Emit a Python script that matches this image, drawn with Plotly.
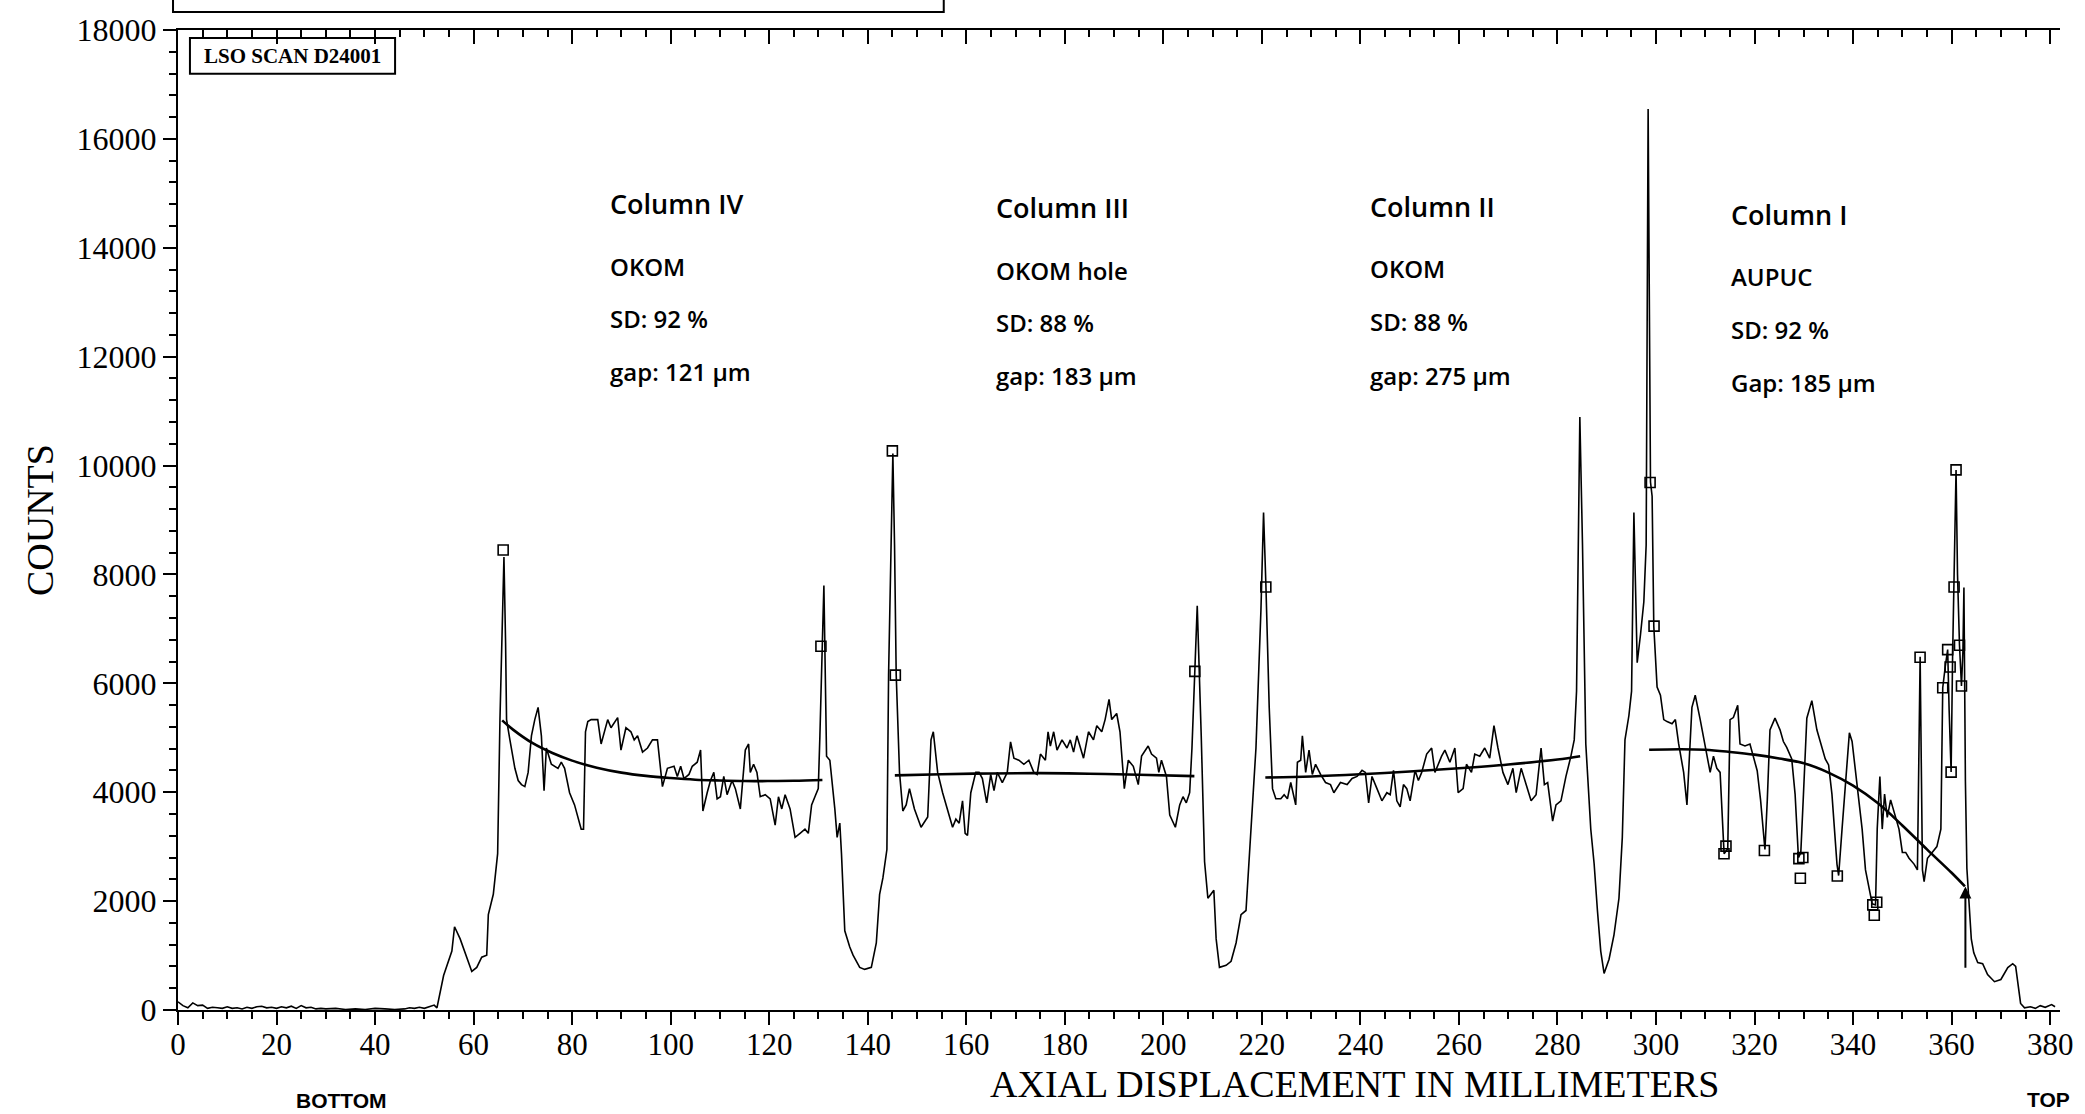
import plotly.graph_objects as go

# ---------------- data ----------------
scan_mm = [
    0, 1, 2, 3, 4, 5, 6, 7, 8, 9, 10, 11, 12, 13, 14, 15, 16, 17, 18, 19, 20, 21, 22, 23, 24, 25, 26, 27, 28, 29,
    30, 32, 34, 36, 38, 40, 42, 44, 46, 47, 48, 49, 50, 51, 52, 52.56,
    53.91, 55.59, 56.13, 57.27, 59.63, 60.64, 61.65, 62.66, 62.99, 64.00, 64.88, 65.35, 65.69, 66.16, 66.49, 66.69,
    67.37, 68.38, 69.05, 69.72, 70.40, 71.07, 71.74, 72.42, 73.09, 73.76, 74.30, 74.77, 75.78, 77.13, 77.80, 78.47,
    79.48, 80.49, 81.84, 82.31, 82.71, 83.18, 83.86, 85.20, 85.88, 87.22, 87.89, 89.24, 89.91, 90.92, 91.93, 92.60,
    93.28, 94.29, 95.30, 96.31, 97.32, 98.33, 99.34, 100.68, 101.35, 102.03, 102.70, 103.71, 104.38, 105.39, 106.07,
    106.54, 107.41, 108.08, 108.76, 109.43, 110.10, 110.78, 111.45, 112.46, 113.13, 114.14, 115.15, 115.82, 116.16,
    116.83, 117.51, 118.18, 119.19, 120.20, 121.21, 121.88, 122.55, 123.23, 124.24, 125.25, 126.26, 127.26, 127.94,
    128.61, 129.28, 129.96, 130.29, 130.70, 131.10, 131.64, 132.31, 133.32, 133.79, 134.33, 134.67, 135.34, 136.35,
    137.02, 138.37, 139.38, 140.39, 140.73, 141.74, 142.41, 143.08, 143.89, 144.23, 144.77, 145.10, 145.44, 145.78,
    146.45, 147.12, 147.80, 148.47, 149.48, 150.82, 152.17, 152.84, 153.31, 154.19, 155.20, 156.21, 157.22, 157.89,
    158.56, 159.24, 159.77, 160.25, 160.92, 161.93, 162.60, 163.27, 164.15, 164.96, 165.63, 166.30, 167.31, 168.32,
    168.99, 169.67, 170.68, 171.69, 172.70, 173.71, 174.38, 175.05, 176.06, 176.60, 177.07, 177.74, 178.42, 179.43,
    180.44, 181.11, 181.78, 182.45, 183.80, 184.81, 185.82, 186.49, 187.50, 188.18, 188.98, 189.52, 190.53, 191.20,
    192.08, 192.89, 193.90, 194.91, 195.58, 196.92, 197.60, 198.61, 199.08, 199.62, 200.63, 201.30, 202.44, 203.32,
    203.99, 204.66, 205.34, 205.81, 206.35, 206.88, 207.69, 208.37, 209.04, 209.71, 210.25, 210.72, 211.39, 212.74,
    213.75, 214.76, 215.77, 216.78, 217.79, 218.80, 219.81, 220.34, 220.82, 221.49, 222.16, 222.83, 223.84, 224.52,
    225.19, 225.86, 226.87, 227.21, 227.88, 228.22, 228.89, 229.57, 230.24, 230.90, 231.91, 232.92, 233.93, 234.61,
    235.95, 237.30, 238.31, 239.32, 240.33, 241.00, 241.67, 242.35, 243.36, 244.36, 245.37, 246.05, 246.72, 247.39,
    248.07, 248.74, 249.41, 250.09, 251.10, 251.77, 252.44, 253.45, 254.46, 255.13, 255.81, 256.48, 257.15, 258.16,
    259.17, 259.84, 260.85, 261.53, 262.54, 263.21, 264.22, 265.23, 266.24, 267.11, 267.92, 268.93, 269.94, 270.95,
    271.62, 272.63, 273.64, 274.65, 275.66, 276.67, 277.34, 278.01, 279.02, 279.70, 280.71, 281.72, 282.73, 283.40,
    283.87, 284.27, 284.54, 285.08, 285.75, 286.76, 287.44, 288.11, 288.78, 289.46, 290.47, 291.47, 292.48, 293.16,
    293.70, 294.50, 295.04, 295.51, 296.18, 296.86, 297.53, 298.00, 298.40, 298.88, 299.21, 299.55, 300.22, 300.90,
    301.57, 302.24, 303.25, 303.93, 304.60, 305.61, 306.28, 307.29, 307.96, 308.97, 309.98, 310.99, 311.66, 312.34,
    313.01, 313.82, 314.56, 315.03, 315.70, 316.58, 317.05, 318.06, 319.07, 320.54, 321.22, 321.77, 322.11, 322.59,
    323.13, 324.15, 325.17, 325.85, 326.53, 327.55, 328.23, 328.91, 329.39, 329.93, 330.61, 331.63, 332.65, 333.33,
    334.35, 335.03, 335.71, 336.73, 337.07, 337.76, 338.44, 339.25, 339.80, 340.48, 341.16, 341.84, 342.52, 343.20,
    343.88, 344.56, 344.90, 345.44, 345.92, 346.39, 346.94, 347.62, 348.30, 349.32, 350.00, 350.68, 351.36, 352.38,
    353.06, 353.61, 354.08, 354.42, 355.10, 356.12, 357.01, 357.82, 358.20, 358.70, 359.20, 359.50, 359.90, 360.20,
    360.50, 360.90, 361.20, 361.60, 362.00, 362.30, 362.50, 362.80, 363.10, 363.50, 364.00, 364.50, 365.30, 366.30,
    367.30, 368.70, 370.00, 371.40, 372.40, 373.00, 373.60, 374.00, 374.80, 376.0, 377.0, 378.0, 379.0, 380.3, 381.0,
]
scan_counts = [
    150, 80, 40, 130, 80, 90, 30, 50, 40, 30, 60, 30, 40, 20, 50, 30, 60, 70, 40, 50, 30, 60, 40, 70, 30, 80, 40, 50, 20, 30,
    20, 30, 10, 20, 10, 30, 20, 10, 20, 40, 30, 50, 30, 60, 90, 40,
    634, 1082, 1529, 1306, 709, 783, 970, 1007, 1753, 2126, 2872, 5334, 6751, 8318, 6751, 5334,
    4961, 4439, 4215, 4140, 4103, 4364, 5036, 5334, 5558, 5036, 4028, 4812, 4513, 4439, 4551, 4439,
    3991, 3767, 3320, 3320, 5110, 5297, 5334, 5334, 4886, 5334, 5185, 5371, 4774, 5185, 5110, 4961,
    5036, 4737, 4812, 4961, 4961, 4103, 4439, 4476, 4290, 4476, 4252, 4327, 4476, 4551, 4774,
    3655, 3991, 4215, 4364, 3879, 3917, 4290, 3954, 4215, 4066, 3693, 4774, 4886, 4364,
    4513, 4364, 3917, 3954, 3879, 3394, 3917, 3693, 3954, 3693, 3171, 3245, 3320, 3245,
    3767, 3917, 4066, 5036, 6677, 7796, 4663, 4588, 3693, 3171, 3432, 2872, 1455, 1156,
    1007, 783, 746, 783, 783, 1231, 2126, 2425, 2947, 6155, 8542, 10220, 8542, 6155,
    4364, 3655, 3767, 4066, 3693, 3357, 3544, 4961, 5110, 4364, 3991, 3693, 3357, 3506,
    3432, 3842, 3245, 3208, 3991, 4364, 4364, 4252, 3805, 4327, 4028, 4364, 4178, 4364,
    4924, 4625, 4588, 4513, 4588, 4364, 4327, 4700, 4588, 5110, 4849, 5110, 4774, 4961,
    4812, 4961, 4737, 5036, 4625, 5110, 4961, 5222, 5110, 5334, 5707, 5334, 5446, 5110,
    4066, 4588, 4476, 4140, 4663, 4849, 4700, 4625, 4364, 4588, 4290, 3581, 3357, 3767,
    3917, 3805, 3991, 4812, 6229, 7423, 5036, 2723, 2052, 2126, 2201, 1306, 783, 821,
    895, 1231, 1753, 1828, 3320, 4812, 7348, 9139, 7796, 5558, 4066, 3879, 3879, 3954,
    3879, 4178, 3767, 4551, 4588, 5036, 4364, 4774, 4327, 4513, 4327, 4178, 4140, 3991,
    4178, 4140, 4252, 4290, 4401, 4364, 3805, 4290, 4066, 3842, 3991, 3954, 4401, 3842,
    3730, 4140, 4066, 3842, 4401, 4215, 4364, 4700, 4812, 4364, 4513, 4663, 4774, 4551,
    4812, 3991, 4066, 4513, 4364, 4700, 4663, 4812, 4625, 5222, 4812, 4364, 4140, 4439,
    3991, 4439, 4140, 3842, 3954, 4812, 4140, 4178, 3469, 3767, 3842, 4290, 4663, 4961,
    5856, 8915, 10892, 8542, 4886, 3320, 2686, 1828, 1082, 671, 933, 1380, 2052, 3171,
    4961, 5409, 5856, 9139, 6378, 6901, 7498, 8542, 16550, 9698, 9437, 7050, 5931, 5782,
    5334, 5297, 5259, 5334, 4886, 4364, 3767, 5558, 5782, 5334, 4812, 4364, 4663, 4439,
    4364, 2870, 2960, 5334, 5371, 5595, 4886, 4849, 4886, 4395, 3859, 3216, 2948, 3859,
    5146, 5360, 5146, 4931, 4824, 4610, 3966, 2800, 2894, 3966, 5360, 5682, 5146, 4931,
    4610, 4502, 3966, 2680, 2470, 3323, 4181, 5092, 4931, 4395, 3752, 3323, 2573, 2251,
    1950, 1930, 3323, 4288, 3323, 3966, 3538, 3859, 3645, 3323, 2894, 2894, 2787, 2680,
    2573, 6486, 2573, 2358, 2787, 2894, 3002, 3323, 5920, 6300, 6620, 5500, 4370, 6500,
    7770, 9920, 8000, 6700, 5950, 6600, 7760, 4200, 2600, 2000, 1300, 1050, 870, 850,
    650, 520, 560, 780, 850, 800, 400, 120, 40, 60, 30, 80, 50, 100, 60,
]

# marked points (open squares)
mark_mm = [66.0, 130.5, 145.0, 145.6, 206.4, 220.8, 298.8, 299.6, 313.8, 314.2, 322.0, 329.0, 329.3, 329.8,
           336.8, 344.0, 344.3, 344.8, 353.6, 358.2, 359.2, 359.7, 359.9, 360.5, 360.9, 361.6, 362.0]
mark_counts = [8450, 6680, 10270, 6150, 6220, 7770, 9690, 7050, 2870, 3010, 2930, 2780, 2420, 2800,
               2460, 1930, 1740, 1980, 6480, 5920, 6620, 6300, 4370, 7770, 9920, 6700, 5950]

# fitted curves per column
fit4_mm = [65.8, 68, 72, 76, 80, 85, 90, 95, 100, 105, 110, 115, 120, 125, 130.8]
fit4_counts = [5320, 5150, 4900, 4720, 4580, 4450, 4360, 4300, 4260, 4230, 4215, 4205, 4205, 4210, 4225]
fit3_mm = [145.5, 155, 165, 175, 185, 195, 206.3]
fit3_counts = [4310, 4330, 4345, 4350, 4340, 4320, 4295]
fit2_mm = [220.7, 230, 240, 250, 260, 270, 280, 284.6]
fit2_counts = [4270, 4290, 4330, 4380, 4440, 4510, 4600, 4660]
fit1_mm = [298.6, 305, 310, 315, 320, 325, 330, 335, 340, 345, 350, 355, 360, 362.7]
fit1_counts = [4780, 4790, 4780, 4740, 4690, 4620, 4530, 4360, 4120, 3800, 3390, 2950, 2520, 2270]

# arrow marking the end of column I
arrow_mm = 362.8
arrow_counts = [750, 2270]

# column labels
col_x = [87.2, 165.6, 241.6, 314.9]
col_title = ["Column IV", "Column III", "Column II", "Column I"]
col_fuel = ["OKOM", "OKOM hole", "OKOM", "AUPUC"]
col_sd = ["SD: 92 %", "SD: 88 %", "SD: 88 %", "SD: 92 %"]
col_gap = ["gap: 121 µm", "gap: 183 µm", "gap: 275 µm", "Gap: 185 µm"]
title_y = [14805, 14732, 14756, 14610]
fuel_y = [13664, 13591, 13615, 13470]
sd_y = [12693, 12620, 12645, 12500]
gap_y = [11722, 11650, 11650, 11528]

# ---------------- figure ----------------
W, H = 2085, 1114
ML, MR, MT, MB = 178, 17, 25, 104
PW, PH = W - ML - MR, H - MT - MB


def px_x(p):
    return (p - ML) / PW


def px_y(p):
    return (H - MB - p) / PH


fig = go.Figure()

fig.add_trace(go.Scatter(x=scan_mm, y=scan_counts, mode="lines",
                         line=dict(color="black", width=1.6), hoverinfo="skip", showlegend=False))
for fx, fy in [(fit4_mm, fit4_counts), (fit3_mm, fit3_counts), (fit2_mm, fit2_counts), (fit1_mm, fit1_counts)]:
    fig.add_trace(go.Scatter(x=fx, y=fy, mode="lines", line=dict(color="black", width=2.6, shape="spline"),
                             hoverinfo="skip", showlegend=False))
fig.add_trace(go.Scatter(x=mark_mm, y=mark_counts, mode="markers",
                         marker=dict(symbol="square-open", size=10, color="black", line=dict(width=1.6)),
                         hoverinfo="skip", showlegend=False))
# invisible trace to activate top axis
fig.add_trace(go.Scatter(x=[0], y=[0], xaxis="x2", mode="markers", marker=dict(opacity=0),
                         hoverinfo="skip", showlegend=False))

serif = "Liberation Serif, Times New Roman, serif"
sans = "Open Sans, Noto Sans, sans-serif"
narrow = "Liberation Sans Narrow, Liberation Sans, sans-serif"

ann = []
for i in range(len(col_x)):
    for txt, yy in [(col_title[i], title_y[i]), (col_fuel[i], fuel_y[i]), (col_sd[i], sd_y[i]), (col_gap[i], gap_y[i])]:
        ann.append(dict(x=col_x[i], y=yy, xref="x", yref="y", text=txt, showarrow=False,
                        xanchor="left", yanchor="middle",
                        font=dict(family=sans, size=(27 if txt == col_title[i] else 24), color="black", weight=600)))

ann.append(dict(x=arrow_mm, y=arrow_counts[1], ax=arrow_mm, ay=arrow_counts[0], xref="x", yref="y",
                axref="x", ayref="y", text="", showarrow=True, arrowhead=2, arrowsize=1.2,
                arrowwidth=2, arrowcolor="black"))


def paper_text(txt, cx, cy, font, angle=0):
    return dict(x=px_x(cx), y=px_y(cy), xref="paper", yref="paper", text=txt, showarrow=False,
                xanchor="center", yanchor="middle", textangle=angle, font=font)


ann.append(paper_text("COUNTS", 40, 518, dict(family=serif, size=38, color="black"), -90))
ann.append(paper_text("AXIAL DISPLACEMENT IN MILLIMETERS", 1359, 1084, dict(family=serif, size=38, color="black")))
ann.append(paper_text("BOTTOM", 342, 1101, dict(family=narrow, size=21, color="black", weight="bold")))
ann.append(paper_text("TOP", 2056, 1100, dict(family=narrow, size=21, color="black", weight="bold")))
ann.append(paper_text("LSO SCAN D24001", 293, 51, dict(family=serif, size=21, color="black", weight="bold")))

shapes = [
    dict(type="rect", xref="paper", yref="paper", x0=px_x(190), x1=px_x(396), y0=px_y(69), y1=px_y(33),
         line=dict(color="black", width=2)),
    dict(type="rect", xref="paper", yref="paper", x0=px_x(173), x1=px_x(947), y0=px_y(7), y1=px_y(-40),
         line=dict(color="black", width=2)),
]

fig.update_layout(
    width=W, height=H,
    margin=dict(l=ML, r=MR, t=MT, b=MB, pad=0),
    paper_bgcolor="white", plot_bgcolor="white",
    showlegend=False,
    annotations=ann, shapes=shapes,
    xaxis=dict(range=[0, 382], showgrid=False, zeroline=False, showline=True, linecolor="black", linewidth=2,
               ticks="outside", ticklen=13, tickwidth=2, tickcolor="black", tick0=0, dtick=20, tickformat="d",
               ticklabelstandoff=-7,
               tickfont=dict(family=serif, size=31, color="black"),
               minor=dict(ticks="outside", ticklen=7, tickwidth=1.5, tickcolor="black", dtick=5, showgrid=False)),
    xaxis2=dict(range=[0, 382], overlaying="x", side="top", showgrid=False, zeroline=False, showline=True,
                linecolor="black", linewidth=2, ticks="inside", ticklen=14, tickwidth=2, tickcolor="black",
                tick0=0, dtick=20, showticklabels=False,
                minor=dict(ticks="inside", ticklen=7, tickwidth=1.5, tickcolor="black", dtick=5, showgrid=False)),
    yaxis=dict(range=[0, 18000], showgrid=False, zeroline=False, showline=True, linecolor="black", linewidth=2,
               ticks="outside", ticklen=13, tickwidth=2, tickcolor="black", tick0=0, dtick=2000, tickformat="d",
               tickfont=dict(family=serif, size=32, color="black"),
               minor=dict(ticks="outside", ticklen=7, tickwidth=1.5, tickcolor="black", dtick=400, showgrid=False)),
)

fig.write_html("out.html")
